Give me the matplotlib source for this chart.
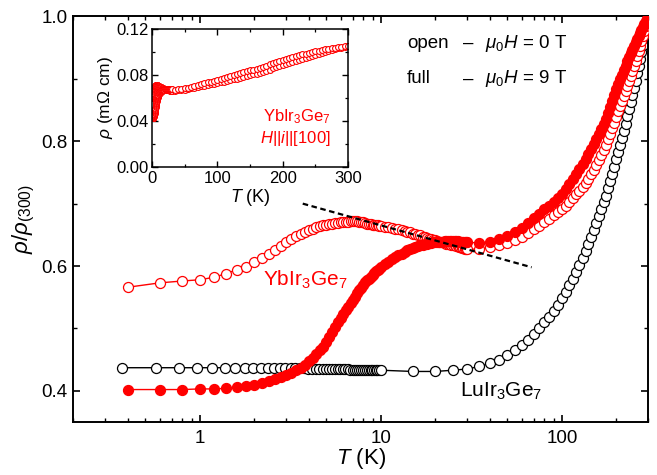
import matplotlib
matplotlib.use('Agg')
import matplotlib.pyplot as plt
import numpy as np
from matplotlib.ticker import FixedLocator, LogLocator, NullFormatter, MultipleLocator, FormatStrFormatter

plt.rcParams['font.family'] = ['Liberation Sans', 'DejaVu Sans']
plt.rcParams['mathtext.fontset'] = 'custom'
plt.rcParams['mathtext.rm'] = 'Liberation Sans'
plt.rcParams['mathtext.it'] = 'Liberation Sans:italic'
plt.rcParams['mathtext.bf'] = 'Liberation Sans:bold'

# YbIr3Ge7, temperature grid (K)
T_yb = [0.4, 0.6, 0.8, 1.0, 1.2, 1.4, 1.6, 1.8, 2.0, 2.2,
        2.4, 2.6, 2.8, 3.0, 3.2, 3.4, 3.6, 3.8, 4.0, 4.2,
        4.4, 4.6, 4.8, 5.0, 5.2, 5.4, 5.6, 5.8, 6.0, 6.2,
        6.4, 6.6, 6.8, 7.0, 7.2, 7.4, 7.6, 7.8, 8.0, 8.2,
        8.4, 8.6, 8.8, 9.0, 9.2, 9.4, 9.6, 9.8, 10.0,
        10.5, 11, 11.5, 12, 12.5, 13, 13.5, 14, 14.5, 15,
        15.5, 16, 16.5, 17, 17.5, 18, 18.5, 19, 19.5, 20,
        20.5, 21, 21.5, 22, 22.5, 23, 23.5, 24, 24.5, 25,
        25.5, 26, 26.5, 27, 27.5, 28, 28.5, 29, 29.5, 30,
        35, 40, 45, 50, 55, 60, 65, 70, 75, 80,
        85, 90, 95, 100, 105, 110, 115, 120, 125, 130,
        135, 140, 145, 150, 155, 160, 165, 170, 175, 180,
        185, 190, 195, 200, 205, 210, 215, 220, 225, 230,
        235, 240, 245, 250, 255, 260, 265, 270, 275, 280,
        285, 290, 295, 300]

# rho/rho(300), mu0H = 0 T (open)
rho_yb_0T = [0.566, 0.573, 0.576, 0.578, 0.582, 0.588, 0.594, 0.599, 0.606, 0.613,
             0.620, 0.626, 0.632, 0.638, 0.643, 0.648, 0.652, 0.655, 0.658, 0.660,
             0.662, 0.664, 0.665, 0.666, 0.667, 0.668, 0.669, 0.669, 0.670, 0.670,
             0.671, 0.671, 0.672, 0.672, 0.672, 0.672, 0.671, 0.671, 0.670, 0.669,
             0.668, 0.668, 0.667, 0.666, 0.666, 0.665, 0.665, 0.664, 0.664,
             0.663, 0.662, 0.661, 0.660, 0.659, 0.657, 0.656, 0.655, 0.654, 0.652,
             0.651, 0.650, 0.649, 0.647, 0.646, 0.645, 0.644, 0.643, 0.642, 0.641,
             0.640, 0.639, 0.639, 0.638, 0.637, 0.636, 0.636, 0.635, 0.634, 0.633,
             0.633, 0.632, 0.632, 0.631, 0.630, 0.629, 0.629, 0.628, 0.628, 0.627,
             0.627, 0.630, 0.633, 0.637, 0.642, 0.647, 0.653, 0.659, 0.664, 0.670,
             0.675, 0.681, 0.686, 0.692, 0.697, 0.703, 0.709, 0.715, 0.721, 0.727,
             0.733, 0.740, 0.747, 0.754, 0.762, 0.770, 0.778, 0.786, 0.794, 0.803,
             0.812, 0.821, 0.830, 0.839, 0.848, 0.857, 0.865, 0.873, 0.881, 0.889,
             0.897, 0.905, 0.913, 0.921, 0.929, 0.937, 0.945, 0.953, 0.961, 0.969,
             0.977, 0.984, 0.992, 1.000]

# rho/rho(300), mu0H = 9 T (full)
rho_yb_9T = [0.402, 0.402, 0.402, 0.403, 0.403, 0.404, 0.406, 0.408, 0.410, 0.413,
             0.416, 0.419, 0.422, 0.425, 0.429, 0.433, 0.437, 0.442, 0.447, 0.453,
             0.459, 0.465, 0.471, 0.478, 0.486, 0.494, 0.502, 0.510, 0.517, 0.523,
             0.529, 0.535, 0.541, 0.546, 0.551, 0.556, 0.561, 0.565, 0.570, 0.574,
             0.577, 0.580, 0.583, 0.586, 0.589, 0.592, 0.594, 0.596, 0.598,
             0.603, 0.607, 0.611, 0.614, 0.617, 0.620, 0.623, 0.625, 0.627, 0.629,
             0.631, 0.632, 0.633, 0.634, 0.635, 0.636, 0.637, 0.637, 0.638, 0.638,
             0.639, 0.639, 0.639, 0.639, 0.640, 0.640, 0.640, 0.640, 0.640, 0.640,
             0.640, 0.640, 0.640, 0.639, 0.639, 0.639, 0.639, 0.638, 0.638, 0.638,
             0.637, 0.639, 0.643, 0.648, 0.654, 0.661, 0.669, 0.677, 0.684, 0.691,
             0.697, 0.703, 0.709, 0.715, 0.723, 0.731, 0.739, 0.748, 0.756, 0.764,
             0.772, 0.780, 0.788, 0.795, 0.803, 0.811, 0.819, 0.827, 0.836, 0.846,
             0.855, 0.865, 0.874, 0.883, 0.891, 0.899, 0.907, 0.914, 0.921, 0.928,
             0.935, 0.941, 0.947, 0.953, 0.959, 0.964, 0.969, 0.974, 0.979, 0.983,
             0.988, 0.992, 0.996, 1.000]

# LuIr3Ge7
T_lu = [0.37, 0.57, 0.77, 0.97, 1.17, 1.37, 1.57, 1.77, 1.97, 2.17,
        2.37, 2.57, 2.77, 2.97, 3.17, 3.37, 3.57, 3.77, 3.97, 4.17,
        4.37, 4.57, 4.77, 4.97, 5.17, 5.37, 5.57, 5.77, 5.97, 6.17,
        6.37, 6.57, 6.77, 6.97, 7.17, 7.37, 7.57, 7.77, 7.97, 8.17,
        8.37, 8.57, 8.77, 8.97, 9.17, 9.37, 9.57, 9.77, 9.97,
        15, 20, 25, 30, 35, 40, 45, 50, 55, 60,
        65, 70, 75, 80, 85, 90, 95, 100, 105, 110,
        115, 120, 125, 130, 135, 140, 145, 150, 155, 160,
        165, 170, 175, 180, 185, 190, 195, 200, 205, 210,
        215, 220, 225, 230, 235, 240, 245, 250, 255, 260,
        265, 270, 275, 280, 285, 290, 295, 300]

rho_lu = [0.437, 0.437, 0.437, 0.437, 0.437, 0.437, 0.437, 0.437, 0.437, 0.437,
          0.437, 0.437, 0.436, 0.436, 0.436, 0.436, 0.436, 0.436, 0.435, 0.435,
          0.435, 0.435, 0.435, 0.435, 0.435, 0.435, 0.435, 0.435, 0.435, 0.435,
          0.435, 0.435, 0.434, 0.434, 0.434, 0.434, 0.434, 0.434, 0.434, 0.434,
          0.434, 0.434, 0.433, 0.433, 0.433, 0.433, 0.433, 0.433, 0.433,
          0.431, 0.431, 0.433, 0.435, 0.439, 0.444, 0.450, 0.457, 0.465, 0.473,
          0.482, 0.491, 0.500, 0.510, 0.519, 0.528, 0.538, 0.548, 0.558, 0.569,
          0.580, 0.591, 0.602, 0.613, 0.624, 0.635, 0.646, 0.658, 0.669, 0.680,
          0.691, 0.702, 0.713, 0.725, 0.736, 0.748, 0.759, 0.771, 0.782, 0.794,
          0.805, 0.817, 0.828, 0.840, 0.851, 0.863, 0.874, 0.886, 0.897, 0.909,
          0.920, 0.932, 0.943, 0.954, 0.966, 0.977, 0.989, 1.000]

# -log T guide line
fit_T = [3.7, 68]
fit_rho = [0.700, 0.598]

# rho(300 K) in mOhm cm
rho300 = 0.1055

red = '#ff0000'

fig = plt.figure(figsize=(6.57, 4.75), dpi=100)
ax = fig.add_axes([0.1116, 0.1116, 0.8752, 0.8537])

ax.plot(T_lu, rho_lu, '-o', color='k', lw=1.0, ms=7.2, mfc='white', mec='k', mew=0.9, zorder=2)
ax.plot(T_yb, rho_yb_0T, '-o', color=red, lw=1.0, ms=7.2, mfc='white', mec=red, mew=0.9, zorder=3)
ax.plot(T_yb, rho_yb_9T, '-o', color=red, lw=1.0, ms=7.2, mfc=red, mec=red, mew=0.9, zorder=4)
ax.plot(fit_T, fit_rho, color='k', lw=1.6, ls=(0, (2.5, 1.6)), zorder=6)

ax.set_xscale('log')
ax.set_xlim(0.2, 300)
ax.set_ylim(0.35, 1.0)
ax.xaxis.set_major_locator(FixedLocator([1, 10, 100]))
ax.set_xticklabels(['1', '10', '100'])
ax.xaxis.set_minor_locator(LogLocator(base=10, subs=np.arange(2, 10)))
ax.xaxis.set_minor_formatter(NullFormatter())
ax.yaxis.set_major_locator(FixedLocator([0.4, 0.6, 0.8, 1.0]))
ax.yaxis.set_minor_locator(MultipleLocator(0.1))
ax.yaxis.set_major_formatter(FormatStrFormatter('%.1f'))
ax.tick_params(which='both', direction='in', top=True, right=True, labelsize=13.5)
ax.tick_params(which='major', length=5, width=1.2)
ax.tick_params(which='minor', length=3, width=1.0)
ax.tick_params(axis='x', pad=6)
ax.tick_params(axis='y', pad=4)
for s in ax.spines.values():
    s.set_linewidth(1.4)

ax.set_xlabel(r'$T$ (K)', fontsize=16, labelpad=-1)
ax.set_ylabel(r'$\rho/\rho_{(300)}$', fontsize=16, labelpad=3)

ax.text(2.24, 0.569, r'YbIr$_3$Ge$_7$', color=red, fontsize=15, ha='left', va='baseline')
ax.text(27.5, 0.3905, r'LuIr$_3$Ge$_7$', color='k', fontsize=15, ha='left', va='baseline')

ax.text(0.580, 0.9216, 'open', transform=ax.transAxes, fontsize=13.5, va='baseline')
ax.text(0.678, 0.9216, '\u2013', transform=ax.transAxes, fontsize=13.5, va='baseline')
ax.text(0.716, 0.9216, r'$\mu_\mathit{0}H$ = 0 T', transform=ax.transAxes, fontsize=13.5, va='baseline')
ax.text(0.580, 0.835, 'full', transform=ax.transAxes, fontsize=13.5, va='baseline')
ax.text(0.678, 0.835, '\u2013', transform=ax.transAxes, fontsize=13.5, va='baseline')
ax.text(0.716, 0.835, r'$\mu_\mathit{0}H$ = 9 T', transform=ax.transAxes, fontsize=13.5, va='baseline')

# inset: absolute resistivity
ins = fig.add_axes([0.2314, 0.649, 0.2983, 0.2899])
ins.plot(T_yb, np.array(rho_yb_0T) * rho300, '-o', color=red, lw=0.8, ms=4.2, mfc='white', mec=red, mew=0.8)
ins.plot(T_yb, np.array(rho_yb_9T) * rho300, '-o', color=red, lw=0.8, ms=4.2, mfc='white', mec=red, mew=0.8)
ins.set_xlim(0, 300)
ins.set_ylim(0, 0.12)
ins.xaxis.set_major_locator(MultipleLocator(100))
ins.xaxis.set_minor_locator(MultipleLocator(50))
ins.yaxis.set_major_locator(MultipleLocator(0.04))
ins.yaxis.set_minor_locator(MultipleLocator(0.02))
ins.yaxis.set_major_formatter(FormatStrFormatter('%.2f'))
ins.tick_params(which='both', direction='in', top=True, right=True, labelsize=12)
ins.tick_params(axis='x', pad=3)
ins.tick_params(axis='y', pad=2.5)
ins.tick_params(which='major', length=4, width=1.0)
ins.tick_params(which='minor', length=2.5, width=0.9)
for s in ins.spines.values():
    s.set_linewidth(1.1)
ins.set_xlabel(r'$T$ (K)', fontsize=13, labelpad=1)
ins.set_ylabel(r'$\rho$ (m$\Omega$ cm)', fontsize=12.5, labelpad=1)
ins.text(0.913, 0.363, r'YbIr$_3$Ge$_7$', color=red, fontsize=12, ha='right', va='center', transform=ins.transAxes)
ins.text(0.913, 0.208, r'$H$||$i$||[100]', color=red, fontsize=12, ha='right', va='center', transform=ins.transAxes)

fig.savefig('out.png', dpi=100)
